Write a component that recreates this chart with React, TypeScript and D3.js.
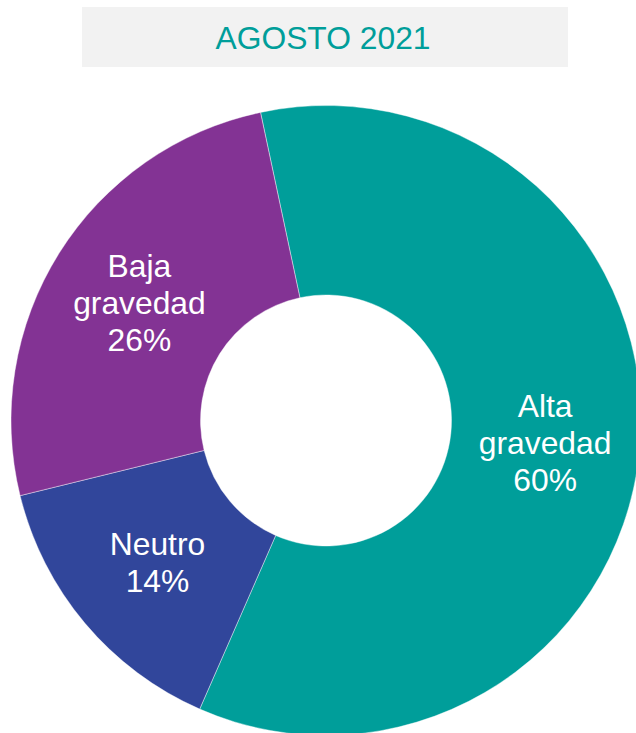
import React from "react";
import * as d3 from "d3";

const title = "AGOSTO 2021";
const categories = ["Alta gravedad", "Neutro", "Baja gravedad"];
const shares = [59.9, 14.6, 25.5];
const labelLines = [["Alta", "gravedad", "60%"], ["Neutro", "14%"], ["Baja", "gravedad", "26%"]];
const colors = ["#009E9A", "#31469B", "#833394"];

const W = 636;
const H = 733;
const cx = 326;
const cy = 420.5;
const outerR = 315;
const innerR = 125.5;
const startDeg = -12;
const fontSize = 31.8;
const lineH = 37;

export default function App() {
  const data = categories.map((c, i) => ({ name: c, value: shares[i], lines: labelLines[i], color: colors[i] }));
  const start = (startDeg * Math.PI) / 180;
  const pie = d3
    .pie<any>()
    .sort(null)
    .value((d: any) => d.value)
    .startAngle(start)
    .endAngle(start + 2 * Math.PI);
  const arcs = pie(data);
  const arc = d3.arc<any>().innerRadius(innerR).outerRadius(outerR);

  return (
    <svg
      width={W}
      height={H}
      style={{ position: "absolute", left: 0, top: 0, background: "#ffffff" }}
      fontFamily="'Liberation Sans', Arial, sans-serif"
    >
      <rect x={82} y={7} width={486} height={60} fill="#F2F2F2" />
      <text x={323} y={49} textAnchor="middle" fontSize={fontSize} fill="#009E9A">
        {title}
      </text>
      <g transform={`translate(${cx},${cy})`}>
        {arcs.map((a, i) => (
          <path key={i} d={arc(a) || ""} fill={a.data.color} stroke="#ffffff" strokeWidth={0.6} strokeOpacity={0.7} />
        ))}
        {arcs.map((a, i) => {
          const [x, y] = arc.centroid(a);
          const n = a.data.lines.length;
          return (
            <text key={"t" + i} textAnchor="middle" fontSize={fontSize} fill="#ffffff">
              {a.data.lines.map((l: string, j: number) => (
                <tspan key={j} x={x} y={y + (j - (n - 1) / 2) * lineH + 11}>
                  {l}
                </tspan>
              ))}
            </text>
          );
        })}
      </g>
    </svg>
  );
}
